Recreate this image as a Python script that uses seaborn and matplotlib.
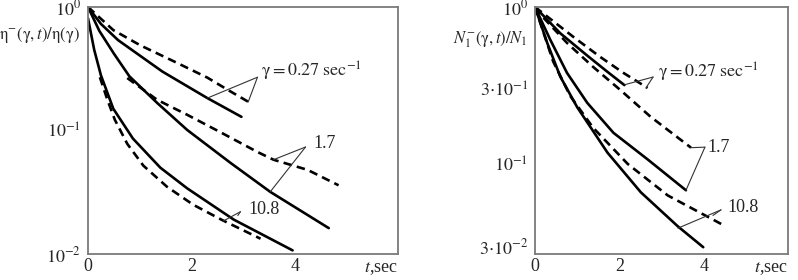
import matplotlib
matplotlib.use("Agg")
import matplotlib.pyplot as plt
import seaborn as sns
import pandas as pd
import numpy as np

sns.set_theme(style="white")
plt.rcParams["font.family"] = ["Liberation Serif", "DejaVu Serif"]
plt.rcParams["mathtext.fontset"] = "stix"

# ---------------- data ----------------
# Left panel: eta^-(gamma,t)/eta(gamma)
eta_s027_t = [0.0, 0.25, 0.58, 1.44, 2.31, 2.97]
eta_s027_y = [1.0, 0.73, 0.54, 0.30, 0.183, 0.129]
eta_d027_t = [0.0, 0.49, 1.01, 1.65, 2.31, 2.70, 3.11]
eta_d027_y = [1.0, 0.65, 0.49, 0.365, 0.268, 0.214, 0.17]

eta_s17_t = [0.0, 0.22, 0.50, 0.80, 1.34, 1.92, 2.76, 3.53, 4.66]
eta_s17_y = [1.0, 0.64, 0.42, 0.275, 0.167, 0.101, 0.0546, 0.0318, 0.0162]
eta_d17_t = [0.76, 1.34, 1.92, 2.56, 3.28, 3.59, 4.25, 4.85]
eta_d17_y = [0.266, 0.177, 0.134, 0.097, 0.067, 0.058, 0.048, 0.036]

eta_s108_t = [0.0, 0.12, 0.25, 0.49, 0.87, 1.40, 1.92, 2.82, 3.96]
eta_s108_y = [0.81, 0.45, 0.28, 0.150, 0.086, 0.050, 0.034, 0.0190, 0.0107]
eta_d108_t = [0.23, 0.37, 0.52, 0.76, 1.07, 1.53, 2.04, 2.60, 3.34]
eta_d108_y = [0.27, 0.180, 0.122, 0.078, 0.052, 0.035, 0.025, 0.0188, 0.0133]

# Right panel: N1^-(gamma,t)/N1
n_s027_t = [0.0, 0.60, 1.24, 1.72, 2.12]
n_s027_y = [1.0, 0.68, 0.49, 0.386, 0.318]
n_d027_t = [0.0, 0.91, 1.55, 2.10, 2.67]
n_d027_y = [1.0, 0.645, 0.48, 0.38, 0.305]

n_s17_t = [0.0, 0.36, 0.76, 1.24, 1.86, 2.67, 3.58]
n_s17_y = [1.0, 0.62, 0.38, 0.245, 0.158, 0.107, 0.068]
n_d17_t = [0.0, 0.19, 0.76, 1.38, 2.03, 2.74, 3.70]
n_d17_y = [1.0, 0.86, 0.59, 0.415, 0.295, 0.20, 0.127]

n_s108_t = [0.0, 0.29, 0.60, 1.00, 1.72, 2.51, 3.39, 3.99]
n_s108_y = [1.0, 0.59, 0.36, 0.23, 0.118, 0.066, 0.040, 0.0295]
n_d108_t = [0.0, 0.43, 0.84, 1.38, 2.20, 3.15, 4.45]
n_d108_y = [1.0, 0.45, 0.27, 0.170, 0.100, 0.063, 0.041]

left_yticks = [1e-2, 1e-1, 1.0]
left_yticklabels = [r"$10^{-2}$", r"$10^{-1}$", r"$10^{0}$"]
right_yticks = [0.03, 0.1, 0.3, 1.0]
right_yticklabels = [r"$3{\cdot}10^{-2}$", r"$10^{-1}$", r"$3{\cdot}10^{-1}$", r"$10^{0}$"]
xticks = [0, 2, 4]
xticklabels = ["0", "2", "4"]

# ---------------- figure ----------------
fig = plt.figure(figsize=(7.98, 2.80), dpi=100)
W, H = 798, 280
axL = fig.add_axes([88 / W, 1 - 254 / H, (398 - 88) / W, (254 - 7) / H])
axR = fig.add_axes([535 / W, 1 - 254 / H, (788 - 535) / W, (254 - 7) / H])

LW = 1.9
DASH = (0, (3.2, 2.0))

def draw(ax, t, y, dashed):
    df = pd.DataFrame({"t": t, "y": y})
    sns.lineplot(data=df, x="t", y="y", ax=ax, color="black", lw=LW,
                 linestyle=DASH if dashed else "-", sort=False, estimator=None)

for t, y, d in [(eta_s027_t, eta_s027_y, False), (eta_d027_t, eta_d027_y, True),
                (eta_s17_t, eta_s17_y, False), (eta_d17_t, eta_d17_y, True),
                (eta_s108_t, eta_s108_y, False), (eta_d108_t, eta_d108_y, True)]:
    draw(axL, t, y, d)
for t, y, d in [(n_s027_t, n_s027_y, False), (n_d027_t, n_d027_y, True),
                (n_s17_t, n_s17_y, False), (n_d17_t, n_d17_y, True),
                (n_s108_t, n_s108_y, False), (n_d108_t, n_d108_y, True)]:
    draw(axR, t, y, d)

FS = 13
for ax in (axL, axR):
    ax.set_yscale("log")
    ax.set_xlim(0, 6)
    ax.set_xticks(xticks)
    ax.set_xticklabels(xticklabels, fontsize=FS)
    ax.minorticks_off()
    ax.set_xlabel("")
    ax.set_ylabel("")
    for s in ax.spines.values():
        s.set_color("#7a7a7a")
        s.set_linewidth(1.3)
    ax.tick_params(direction="in", length=4, width=1.0, color="#7a7a7a",
                   labelsize=FS, pad=3)
    ax.tick_params(axis="y", pad=5)
    ax.text(1.0, -0.057, r"$t$,sec", transform=ax.transAxes, ha="right",
            va="center", fontsize=FS)

axL.set_ylim(0.01, 1.0)
axL.set_yticks(left_yticks)
axL.set_yticklabels(left_yticklabels, fontsize=FS)
axL.minorticks_off()
axR.set_ylim(0.0267, 1.0)
axR.set_yticks(right_yticks)
axR.set_yticklabels(right_yticklabels, fontsize=FS)
axR.minorticks_off()

axL.text(-0.026, 0.885, r"$\mathrm{η}^{-}(\mathrm{γ},t)/\mathrm{η}(\mathrm{γ})$",
         transform=axL.transAxes, ha="right", va="center", fontsize=12)
axR.text(-0.028, 0.87, r"$N_1^{-}(\mathrm{γ},t)/N_1$",
         transform=axR.transAxes, ha="right", va="center", fontsize=12)

def leader(ax, vertex, targets):
    for tg in targets:
        ax.annotate("", xy=tg, xytext=vertex,
                    arrowprops=dict(arrowstyle="-", lw=0.8, color="#333333",
                                    shrinkA=0, shrinkB=0))

gam = r"$\mathrm{γ = 0.27\ sec}^{-1}$"
# left annotations
axL.text(3.35, 0.30, gam, fontsize=FS, ha="left", va="center")
leader(axL, (3.28, 0.27), [(2.31, 0.183), (3.1, 0.17)])
axL.text(4.37, 0.079, "1.7", fontsize=FS, ha="left", va="center")
leader(axL, (4.21, 0.0735), [(3.59, 0.058), (3.53, 0.032)])
axL.text(3.1, 0.0228, "10.8", fontsize=FS, ha="left", va="center")
leader(axL, (2.95, 0.022), [(2.62, 0.0185), (2.9, 0.0205)])

# right annotations
axR.text(2.91, 0.385, gam, fontsize=FS, ha="left", va="center")
leader(axR, (2.80, 0.358), [(2.13, 0.32), (2.63, 0.305)])
axR.text(4.1, 0.128, "1.7", fontsize=FS, ha="left", va="center")
leader(axR, (4.03, 0.128), [(3.70, 0.127), (3.58, 0.068)])
axR.text(4.57, 0.053, "10.8", fontsize=FS, ha="left", va="center")
leader(axR, (4.41, 0.051), [(4.22, 0.047), (3.39, 0.039)])

fig.savefig("out.png", dpi=100)
